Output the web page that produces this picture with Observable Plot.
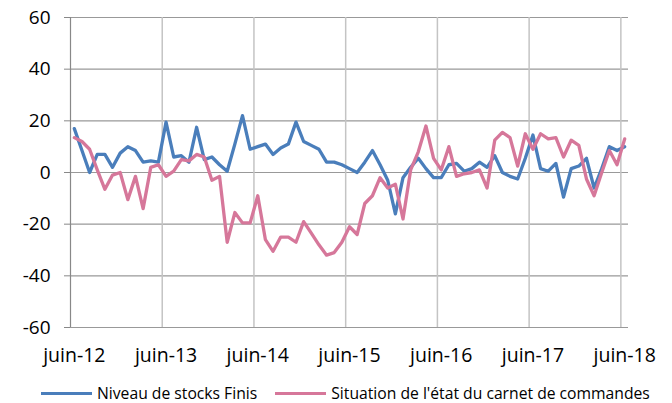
<!DOCTYPE html>
<html><head><meta charset="utf-8">
<script src="https://cdn.jsdelivr.net/npm/d3@7"></script>
<script src="https://cdn.jsdelivr.net/npm/@observablehq/plot@0.6"></script>
<style>
body{margin:0;background:#fff;font-family:"Open Sans",sans-serif;}
#legend{display:flex;align-items:center;padding-left:41px;padding-top:12px;font-size:15.7px;line-height:19px;color:#000;white-space:nowrap;}
.sw{display:inline-block;width:51px;height:3.5px;margin-right:5px;}
.item{display:flex;align-items:center;}
</style></head>
<body>
<div id="chart"></div>
<div id="legend"></div>
<script>
const seriesNames = ["Niveau de stocks Finis", "Situation de l'état du carnet de commandes"];
const colors = ["#4a7ebb", "#d6779a"];
const xLabels = ["juin-12","juin-13","juin-14","juin-15","juin-16","juin-17","juin-18"];
const stocks = [17,8.5,0,7,7,2,7.5,10,8.5,4,4.5,4,19.5,6,6.5,4,17.5,5,6,3,0.5,11,22,9,10,11,7,9.5,11,19.5,12,10.5,9,4,4,3,1.5,0,4,8.5,3,-3,-16,-2,2,5.5,1.5,-2,-2,3,3.5,0.5,1.5,4,2,6.5,0,-1.5,-2.5,5.5,14.5,1.5,0.5,3.5,-9.5,1.5,2.5,5.5,-6,1.5,10,8.5,10];
const carnet = [13.5,12,9,1,-6.5,-1,0,-10.5,-1.5,-14,2,3,-1.5,0.5,5,4.5,7,6,-3,-1.5,-27,-15.5,-19.5,-19.5,-9,-26,-30.5,-25,-25,-27,-19,-23.5,-28,-32,-31,-27,-21,-24,-12,-9,-2,-6,-4.5,-18,1,8,18,5.5,1,10,-1.5,-0.5,0,1,-6,12.5,15.5,13.5,2.5,15,9,15,13,13.5,6,12.5,10.5,-2.5,-9,0,8.5,3,13];
const yTicks = [-60,-40,-20,0,20,40,60];

const data = [];
stocks.forEach((v,i)=>data.push({i, v, s: seriesNames[0]}));
carnet.forEach((v,i)=>data.push({i, v, s: seriesNames[1]}));
const labelPos = xLabels.map((_,k)=>k*12);
const yearBounds = xLabels.slice(1).map((_,k)=>k*12+11.5);

const plot = Plot.plot({
  width: 672, height: 372,
  marginLeft: 70, marginRight: 44, marginTop: 17, marginBottom: 45,
  style: {fontFamily: "'Open Sans', sans-serif", fontSize: "19px", color: "#000", overflow: "visible"},
  x: {domain: [-0.5, 72.5], label: null},
  y: {domain: [-60, 60], label: null},
  color: {domain: seriesNames, range: colors},
  marks: [
    Plot.ruleY(yTicks, {stroke: "#999", strokeWidth: 1.2}),
    Plot.ruleX(yearBounds, {stroke: "#c4c4c4", strokeWidth: 1.5}),
    Plot.ruleX([-0.5], {stroke: "#888", strokeWidth: 1.2}),
    Plot.axisY(yTicks, {tickSize: 6, tickPadding: 14, tickFormat: d => String(d), stroke: "#888", fontSize: 19, label: null}),
    Plot.axisX(labelPos, {tickSize: 0, tickPadding: 21, tickFormat: d => xLabels[d/12], fontSize: 19.5, label: null}),
    Plot.line(data, {x: "i", y: "v", z: "s", stroke: "s", strokeWidth: 3.3, strokeLinejoin: "round", strokeLinecap: "round"})
  ]
});
document.getElementById("chart").append(plot);
const lg = document.getElementById("legend");
seriesNames.forEach((n,k)=>{
  const it = document.createElement("span"); it.className="item";
  if (k > 0) it.style.marginLeft = "18px";
  const sw = document.createElement("span"); sw.className="sw"; sw.style.background = colors[k];
  it.append(sw, document.createTextNode(n));
  lg.append(it);
});
</script>
</body></html>
